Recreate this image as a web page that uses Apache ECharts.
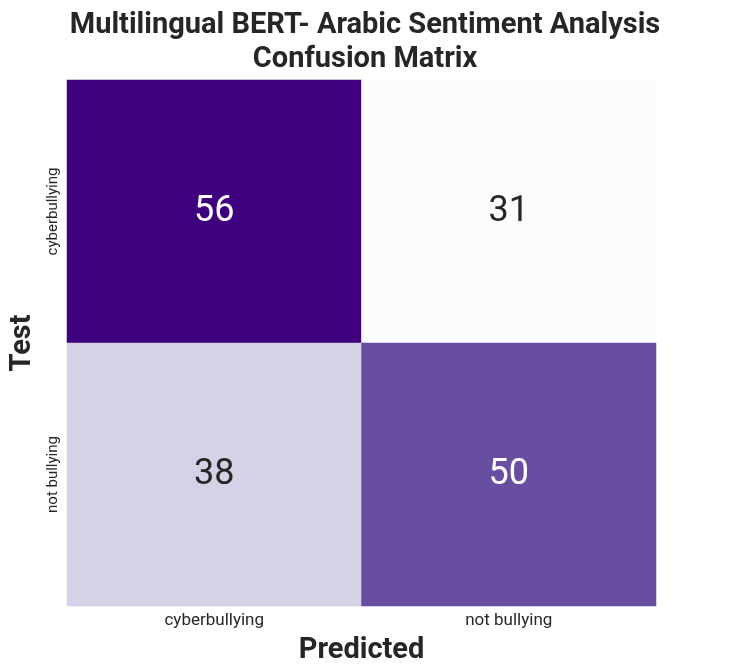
<!DOCTYPE html>
<html>
<head>
<meta charset="UTF-8">
<title>Confusion Matrix</title>
<script src="https://cdn.jsdelivr.net/npm/echarts@6/dist/echarts.min.js"></script>
<style>
    html,body{padding:0; margin:0; background:#fff;}
    #main{width:736px; height:672px;}
</style>
</head>
<body>
<div id="main"></div>
<script type="text/javascript">
    var predictedLabels = ['cyberbullying', 'not bullying'];
    var testLabels = ['not bullying', 'cyberbullying'];   // bottom to top
    // [predicted index, test index, count]
    var cells = [
        [0, 1, 56], [1, 1, 31],
        [0, 0, 38], [1, 0, 50]
    ];

    var myChart = echarts.init(document.getElementById('main'));
    var option = {
        backgroundColor: '#fff',
        title: {
            text: 'Multilingual BERT- Arabic Sentiment Analysis\nConfusion Matrix',
            left: 360, top: 4, textAlign: 'center',
            textStyle: {fontFamily: 'Roboto', fontWeight: 'bold', fontSize: 29, lineHeight: 34, color: '#262626'}
        },
        grid: {left: 58, right: 80, top: 80, bottom: 66},
        xAxis: {
            type: 'category', data: predictedLabels,
            name: 'Predicted', nameLocation: 'middle', nameGap: 30,
            nameTextStyle: {fontFamily: 'Roboto', fontWeight: 'bold', fontSize: 29, color: '#262626'},
            axisLine: {show: false}, axisTick: {show: false},
            axisLabel: {fontFamily: 'Roboto', fontSize: 17, color: '#262626', margin: 6}
        },
        yAxis: {
            type: 'category', data: testLabels,
            name: 'Test', nameLocation: 'middle', nameGap: 30,
            nameTextStyle: {fontFamily: 'Roboto', fontWeight: 'bold', fontSize: 29, color: '#262626'},
            axisLine: {show: false}, axisTick: {show: false},
            axisLabel: {fontFamily: 'Roboto', fontSize: 15, color: '#262626', rotate: 90, margin: 6}
        },
        visualMap: {
            show: false, min: 31, max: 56, dimension: 2,
            inRange: {color: ['#fcfbfd', '#dadaeb', '#9e9ac8', '#6a51a3', '#3f007d']}
        },
        series: [{
            type: 'heatmap',
            data: cells,
            label: {
                show: true, fontFamily: 'Roboto', fontSize: 36,
                color: '#262626',
                formatter: function (p) { return p.value[2]; },
                rich: {}
            },
            labelLayout: null
        }]
    };
    // white labels on dark cells
    option.series[0].data = cells.map(function (c) {
        return {value: c, label: {color: c[2] >= 45 ? '#ffffff' : '#262626'}};
    });
    myChart.setOption(option);
</script>
</body>
</html>
